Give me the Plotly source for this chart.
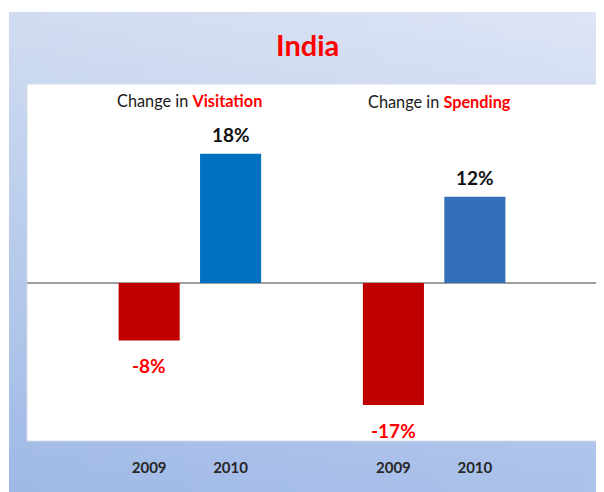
import base64, struct, zlib
import plotly.graph_objects as go

# ---- data ----
groups = ["Visitation", "Spending"]
years = ["2009", "2010"]
visitation = [-8, 18]
spending = [-17, 12]
positions = [0, 1, 3, 4]
labels_years = ["2009", "2010", "2009", "2010"]

values = visitation + spending
bar_colors = ["#C00000", "#0070C0", "#C00000", "#3470BA"]

# ---- gradient background png ----
def make_png(w, h, corners):
    tl, tr, bl, br = corners
    rows = []
    for j in range(h):
        fy = j / (h - 1)
        row = bytearray([0])
        for i in range(w):
            fx = i / (w - 1)
            px = []
            for c in range(3):
                top = tl[c] * (1 - fx) + tr[c] * fx
                bot = bl[c] * (1 - fx) + br[c] * fx
                px.append(int(round(top * (1 - fy) + bot * fy)))
            row.extend(px)
        rows.append(bytes(row))
    raw = b"".join(rows)
    def chunk(t, d):
        c = struct.pack(">I", len(d)) + t + d
        return c + struct.pack(">I", zlib.crc32(t + d) & 0xffffffff)
    data = b"\x89PNG\r\n\x1a\n"
    data += chunk(b"IHDR", struct.pack(">IIBBBBB", w, h, 8, 2, 0, 0, 0))
    data += chunk(b"IDAT", zlib.compress(raw, 9))
    data += chunk(b"IEND", b"")
    return "data:image/png;base64," + base64.b64encode(data).decode()

bg = make_png(48, 48, [(208, 220, 241), (222, 229, 245), (160, 186, 230), (172, 194, 234)])

FONT = "Lato"
fig = go.Figure()
fig.add_trace(go.Bar(
    x=positions, y=values, width=0.75,
    marker=dict(color=bar_colors, line=dict(width=0)),
    hoverinfo="skip", showlegend=False,
))

annotations = []
for x, v in zip(positions, values):
    if v >= 0:
        annotations.append(dict(x=x, y=v, xref="x", yref="y", text=f"<b>{v}%</b>",
                                showarrow=False, yanchor="bottom", yshift=6,
                                font=dict(family=FONT, size=19, color="#111111")))
    else:
        annotations.append(dict(x=x, y=v, xref="x", yref="y", text=f"<b>{v}%</b>",
                                showarrow=False, yanchor="top", yshift=-12,
                                font=dict(family=FONT, size=19, color="#FF0000")))

# group subtitles
for gx, name, yy in [(0.5, groups[0], 0.955), (3.57, groups[1], 0.95)]:
    annotations.append(dict(x=gx, y=yy, xref="x", yref="paper",
                            text=f"Change in <span style='color:#FF0000'><b>{name}</b></span>",
                            showarrow=False, yanchor="middle",
                            font=dict(family=FONT, size=16.3, color="#1a1a1a")))

# title
annotations.append(dict(x=0.492, y=1.112, xref="paper", yref="paper", text="<b>India</b>",
                        showarrow=False, yanchor="middle",
                        font=dict(family=FONT, size=29, color="#FF0000")))

fig.update_layout(
    width=604, height=492,
    margin=dict(l=19, r=15, t=76, b=59),
    paper_bgcolor="white",
    plot_bgcolor="white",
    images=[dict(source=bg, xref="paper", yref="paper",
                 x=-0.0316, y=1.2017, sizex=1.06, sizey=1.3446,
                 xanchor="left", yanchor="top", sizing="stretch", layer="below")],
    shapes=[dict(type="rect", xref="paper", yref="paper", x0=0, x1=1, y0=0, y1=1,
                 fillcolor="white", line=dict(color="#D6DCE6", width=1), layer="below")],
    annotations=annotations,
    xaxis=dict(range=[-1.5, 5.5], tickvals=positions, ticktext=labels_years,
               showgrid=False, zeroline=False, showline=False, ticks="",
               ticklabelstandoff=16,
               tickfont=dict(family=FONT, size=15, color="#262626", weight="bold")),
    yaxis=dict(range=[-22, 27.7], showgrid=False, showticklabels=False,
               zeroline=True, zerolinecolor="#9E9E9E", zerolinewidth=1.5,
               showline=False, ticks=""),
    bargap=0.2,
)

fig.write_html("out.html")
